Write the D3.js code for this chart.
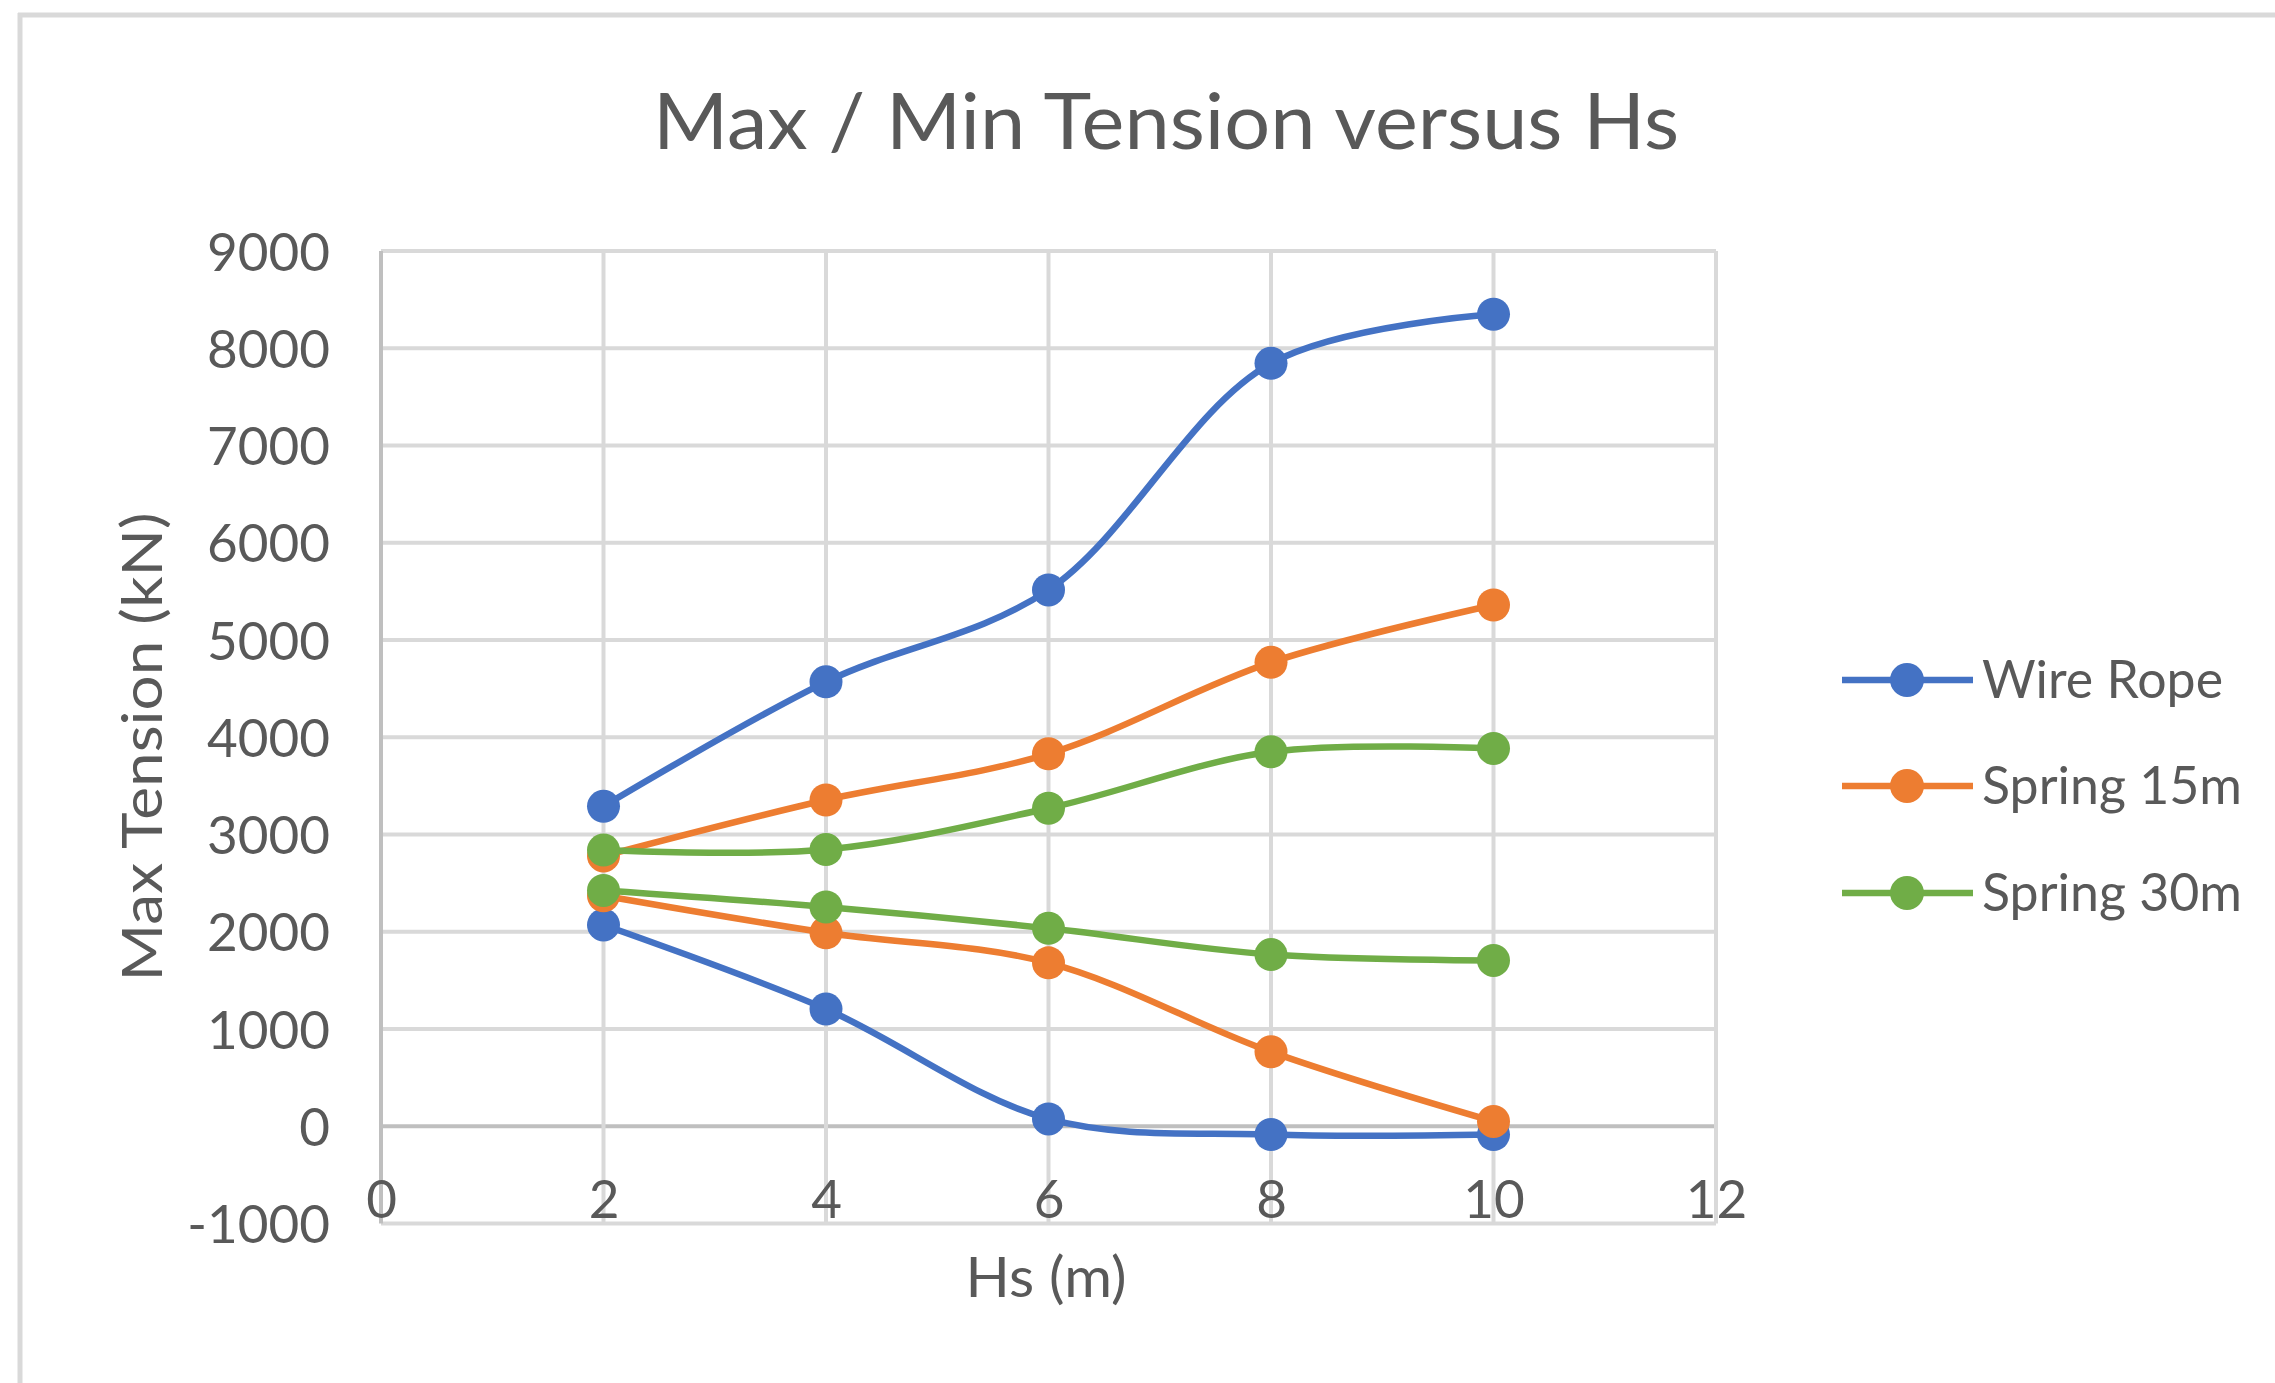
<!DOCTYPE html>
<html>
<head>
<meta charset="utf-8">
<script src="https://cdn.jsdelivr.net/npm/d3@7"></script>
<style>
  html, body { margin: 0; padding: 0; background: #fff; }
  svg { display: block; font-family: Lato, "Open Sans", sans-serif; }
  .tick text { fill: #595959; }
</style>
</head>
<body>
<svg id="chart"></svg>
<script>
const width = 2275;
const height = 1383;

// data
const hs = [2, 4, 6, 8, 10];
const wireRopeMax = [3290, 4570, 5515, 7845, 8350];
const wireRopeMin = [2070, 1205, 75, -85, -85];
const spring15Max = [2780, 3355, 3830, 4770, 5360];
const spring15Min = [2370, 1990, 1680, 765, 50];
const spring30Max = [2840, 2845, 3270, 3850, 3885];
const spring30Min = [2425, 2255, 2035, 1765, 1705];
const seriesNames = ["Wire Rope", "Spring 15m", "Spring 30m"];
const seriesColors = ["#4472C4", "#ED7D31", "#70AD47"];
const xTicks = [0, 2, 4, 6, 8, 10, 12];
const yTicks = [-1000, 0, 1000, 2000, 3000, 4000, 5000, 6000, 7000, 8000, 9000];

const svg = d3.select("#chart").attr("width", width).attr("height", height);

const x = d3.scaleLinear().domain([0, 12]).range([381, 1716]);
const y = d3.scaleLinear().domain([-1000, 9000]).range([1223.5, 251]);

// chart frame (clipped at right/bottom like the reference)
svg.append("line").attr("x1", 20).attr("x2", 20).attr("y1", 13).attr("y2", height)
  .attr("stroke", "#d9d9d9").attr("stroke-width", 5);
svg.append("line").attr("x1", 18).attr("x2", width).attr("y1", 15).attr("y2", 15)
  .attr("stroke", "#d9d9d9").attr("stroke-width", 5);

// title
svg.append("text")
  .attr("x", 1166).attr("y", 149)
  .attr("text-anchor", "middle")
  .attr("font-size", 78)
  .attr("fill", "#595959")
  .attr("textLength", 1026).attr("lengthAdjust", "spacingAndGlyphs")
  .text("Max / Min Tension versus Hs");

// grid
const grid = svg.append("g");
grid.selectAll("line.h").data(yTicks).join("line")
  .attr("class", "h")
  .attr("x1", x(0)).attr("x2", x(12))
  .attr("y1", (d) => y(d)).attr("y2", (d) => y(d))
  .attr("stroke", (d) => (d === 0 ? "#bfbfbf" : "#d9d9d9"))
  .attr("stroke-width", 4);
grid.selectAll("line.v").data(xTicks).join("line")
  .attr("class", "v")
  .attr("x1", (d) => x(d)).attr("x2", (d) => x(d))
  .attr("y1", y(9000)).attr("y2", y(-1000))
  .attr("stroke", (d) => (d === 0 ? "#bfbfbf" : "#d9d9d9"))
  .attr("stroke-width", 4);

// axes (labels only)
svg.append("g")
  .attr("transform", "translate(330,0)")
  .call(d3.axisLeft(y).tickValues(yTicks).tickSize(0).tickPadding(0).tickFormat((d) => String(d)))
  .call((g) => g.select(".domain").remove())
  .call((g) => g.selectAll("text")
    .attr("font-size", 53).attr("font-family", "Lato, sans-serif")
    .attr("dy", 19).attr("x", 0));

svg.append("g")
  .attr("transform", "translate(0,1218)")
  .call(d3.axisBottom(x).tickValues(xTicks).tickSize(0).tickPadding(0))
  .call((g) => g.select(".domain").remove())
  .call((g) => g.selectAll("text")
    .attr("font-size", 53).attr("font-family", "Lato, sans-serif")
    .attr("y", 0).attr("dy", 0));

// axis titles
svg.append("text")
  .attr("transform", "translate(162,747) rotate(-90)")
  .attr("text-anchor", "middle")
  .attr("font-size", 57)
  .attr("fill", "#595959")
  .attr("textLength", 469).attr("lengthAdjust", "spacingAndGlyphs")
  .text("Max Tension (kN)");
svg.append("text")
  .attr("x", 1046).attr("y", 1297)
  .attr("text-anchor", "middle")
  .attr("font-size", 56)
  .attr("fill", "#595959")
  .attr("textLength", 161).attr("lengthAdjust", "spacingAndGlyphs")
  .text("Hs (m)");

// series
const series = [
  { color: seriesColors[0], values: wireRopeMax },
  { color: seriesColors[0], values: wireRopeMin },
  { color: seriesColors[1], values: spring15Max },
  { color: seriesColors[1], values: spring15Min },
  { color: seriesColors[2], values: spring30Max },
  { color: seriesColors[2], values: spring30Min },
];

const line = d3.line()
  .x((d) => x(d[0]))
  .y((d) => y(d[1]))
  .curve(d3.curveCatmullRom.alpha(0.5));

const plot = svg.append("g");
series.forEach((s) => {
  const pts = hs.map((h, i) => [h, s.values[i]]);
  const g = plot.append("g");
  g.append("path")
    .attr("d", line(pts))
    .attr("fill", "none")
    .attr("stroke", s.color)
    .attr("stroke-width", 6.5)
    .attr("stroke-linejoin", "round");
  g.selectAll("circle").data(pts).join("circle")
    .attr("cx", (d) => x(d[0]))
    .attr("cy", (d) => y(d[1]))
    .attr("r", 16.5)
    .attr("fill", s.color);
});

// legend
const legendY = [680, 786, 893];
const legendWidths = [241, 260, 260];
const legend = svg.append("g");
seriesNames.forEach((name, i) => {
  const g = legend.append("g").attr("transform", `translate(0,${legendY[i]})`);
  g.append("line").attr("x1", 1842).attr("x2", 1973).attr("y1", 0).attr("y2", 0)
    .attr("stroke", seriesColors[i]).attr("stroke-width", 6.5);
  g.append("circle").attr("cx", 1907).attr("cy", 0).attr("r", 17).attr("fill", seriesColors[i]);
  g.append("text")
    .attr("x", 1982).attr("y", 18)
    .attr("font-size", 52)
    .attr("fill", "#595959")
    .attr("textLength", legendWidths[i]).attr("lengthAdjust", "spacingAndGlyphs")
    .text(name);
});
</script>
</body>
</html>
